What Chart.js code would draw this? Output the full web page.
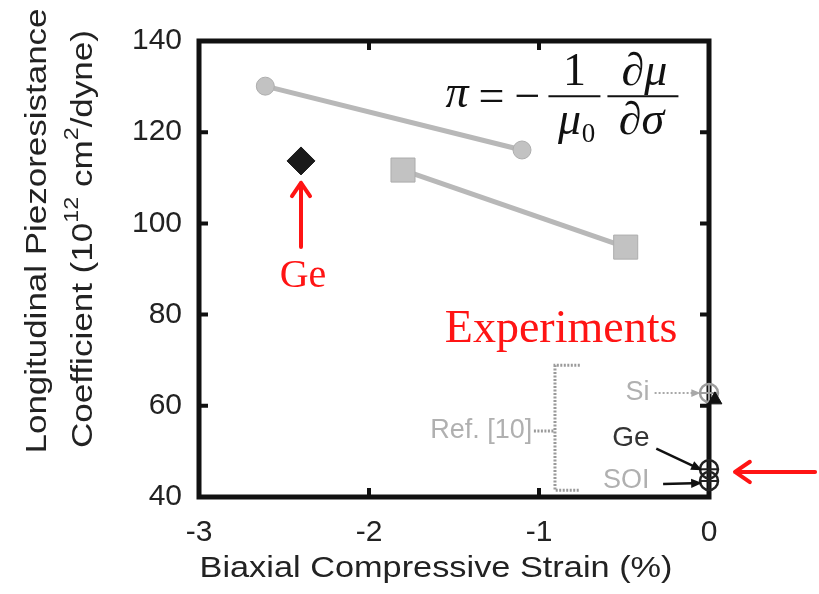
<!DOCTYPE html>
<html>
<head>
<meta charset="utf-8">
<script src="https://cdn.jsdelivr.net/npm/chart.js@4.4.0/dist/chart.umd.min.js"></script>
<style>
  html, body { margin: 0; padding: 0; background: #fff; }
  #wrap { width: 819px; height: 594px; }
</style>
</head>
<body>
<div id="wrap"><canvas id="chart" width="819" height="594"></canvas></div>
<script>
// values
const strainTicks = [-3, -2, -1, 0];
const piTicks = [40, 60, 80, 100, 120, 140];

// simulation (grey lines)
const simCircleX = [-2.61, -1.10];
const simCircleY = [130.1, 116.1];
const simSquareX = [-1.80, -0.49];
const simSquareY = [111.7, 94.8];

// strained Ge (black diamond)
const geX = [-2.40];
const geY = [113.7];

// experiments at zero strain: Si, Ge, SOI
const expLabels = ['Si', 'Ge', 'SOI'];
const expX = [0, 0, 0];
const expY = [62.8, 46.1, 43.5];
const siTriX = [0.035];
const siTriY = [61.3];

const SANS = '"Liberation Sans", Arial, sans-serif';
const SERIF = '"Liberation Serif", "Times New Roman", serif';
const RED = '#ff1414';
const GREY = '#b8b8b8';

const pts = (xs, ys) => xs.map((x, i) => ({ x: x, y: ys[i] }));

// arrow with an open chevron head (red ones)
const chevronArrow = (ctx, x1, y1, x2, y2, color, lw, head) => {
    const a = Math.atan2(y2 - y1, x2 - x1);
    ctx.save();
    ctx.strokeStyle = color;
    ctx.lineWidth = lw;
    ctx.lineCap = 'round';
    ctx.lineJoin = 'round';
    ctx.beginPath();
    ctx.moveTo(x1, y1);
    ctx.lineTo(x2, y2);
    ctx.moveTo(x2 - head * Math.cos(a - 0.6), y2 - head * Math.sin(a - 0.6));
    ctx.lineTo(x2, y2);
    ctx.lineTo(x2 - head * Math.cos(a + 0.6), y2 - head * Math.sin(a + 0.6));
    ctx.stroke();
    ctx.restore();
};

// arrow with a filled head (small black ones)
const filledArrow = (ctx, x1, y1, x2, y2, color, lw, head, dash) => {
    const a = Math.atan2(y2 - y1, x2 - x1);
    ctx.save();
    ctx.strokeStyle = color;
    ctx.fillStyle = color;
    ctx.lineWidth = lw;
    if (dash) ctx.setLineDash(dash);
    ctx.beginPath();
    ctx.moveTo(x1, y1);
    ctx.lineTo(x2 - head * 0.8 * Math.cos(a), y2 - head * 0.8 * Math.sin(a));
    ctx.stroke();
    ctx.setLineDash([]);
    ctx.beginPath();
    ctx.moveTo(x2, y2);
    ctx.lineTo(x2 - head * Math.cos(a - 0.4), y2 - head * Math.sin(a - 0.4));
    ctx.lineTo(x2 - head * Math.cos(a + 0.4), y2 - head * Math.sin(a + 0.4));
    ctx.closePath();
    ctx.fill();
    ctx.restore();
};

// text fitted to a given length, drawn along an angle
const fitText = (ctx, parts, cx, cy, len, rot) => {
    // parts: [{t, font, dy}]
    let w = 0;
    parts.forEach(p => { ctx.font = p.font; p.w = ctx.measureText(p.t).width; w += p.w; });
    const k = len / w;
    ctx.save();
    ctx.translate(cx, cy);
    ctx.rotate(rot);
    ctx.scale(k, 1);
    ctx.textBaseline = 'middle';
    ctx.textAlign = 'left';
    let x = -w / 2;
    parts.forEach(p => {
        ctx.font = p.font;
        ctx.fillText(p.t, x, p.dy || 0);
        x += p.w;
    });
    ctx.restore();
};

// frame with inward ticks, drawn under the markers
const framePlugin = {
    id: 'frame',
    beforeDatasetsDraw(chart) {
        const { ctx, chartArea: a, scales: { x, y } } = chart;
        ctx.save();
        ctx.strokeStyle = '#111';
        ctx.lineWidth = 5;
        ctx.strokeRect(a.left, a.top, a.right - a.left, a.bottom - a.top);
        ctx.lineWidth = 4;
        ctx.beginPath();
        strainTicks.slice(1, -1).forEach(v => {
            const px = x.getPixelForValue(v);
            ctx.moveTo(px, a.bottom); ctx.lineTo(px, a.bottom - 9);
            ctx.moveTo(px, a.top); ctx.lineTo(px, a.top + 9);
        });
        piTicks.slice(1, -1).forEach(v => {
            const py = y.getPixelForValue(v);
            ctx.moveTo(a.left, py); ctx.lineTo(a.left + 9, py);
            ctx.moveTo(a.right, py); ctx.lineTo(a.right - 9, py);
        });
        ctx.stroke();
        ctx.restore();
    }
};

const notesPlugin = {
    id: 'notes',
    afterDraw(chart) {
        const { ctx, chartArea: a, scales: { x, y } } = chart;
        const X = v => x.getPixelForValue(v);
        const Y = v => y.getPixelForValue(v);

        // axis titles
        ctx.fillStyle = '#222';
        fitText(ctx, [{ t: 'Biaxial Compressive Strain (%)', font: '30px ' + SANS }],
            (a.left + a.right) / 2 - 18, 569, 473, 0);
        fitText(ctx, [{ t: 'Longitudinal Piezoresistance', font: '30px ' + SANS }],
            38, 231, 445, -Math.PI / 2);
        fitText(ctx, [
            { t: 'Coefficient (10', font: '30px ' + SANS },
            { t: '12', font: '20px ' + SANS, dy: -12 },
            { t: ' cm', font: '30px ' + SANS },
            { t: '2', font: '20px ' + SANS, dy: -12 },
            { t: '/dyne)', font: '30px ' + SANS }
        ], 84, 239, 418, -Math.PI / 2);

        // formula  pi = -(1/mu0)(d mu / d sigma)
        ctx.save();
        ctx.fillStyle = '#111';
        ctx.strokeStyle = '#111';
        ctx.textBaseline = 'alphabetic';
        const barY = Y(127.9);
        let fx = X(-1.55);
        ctx.font = 'italic 46px ' + SERIF;
        ctx.textAlign = 'left';
        ctx.fillText('\u03c0', fx, barY + 11);
        fx += ctx.measureText('\u03c0').width + 10;
        ctx.font = '46px ' + SERIF;
        ctx.fillText('=', fx, barY + 15);
        fx += ctx.measureText('=').width + 10;
        ctx.fillText('\u2212', fx, barY + 15);
        fx += ctx.measureText('\u2212').width + 8;
        // first fraction
        ctx.lineWidth = 2;
        ctx.beginPath(); ctx.moveTo(fx, barY); ctx.lineTo(fx + 52, barY); ctx.stroke();
        ctx.textAlign = 'center';
        ctx.fillText('1', fx + 26, barY - 11);
        ctx.font = 'italic 46px ' + SERIF;
        ctx.fillText('\u03bc', fx + 21, barY + 38);
        ctx.font = '27px ' + SERIF;
        ctx.fillText('0', fx + 40, barY + 46);
        fx += 59;
        // second fraction
        ctx.beginPath(); ctx.moveTo(fx, barY); ctx.lineTo(fx + 71, barY); ctx.stroke();
        ctx.font = 'italic 46px ' + SERIF;
        ctx.fillText('\u2202\u03bc', fx + 37, barY - 11);
        ctx.fillText('\u2202\u03c3', fx + 34, barY + 38);
        ctx.restore();

        // red note for the strained Ge point
        chevronArrow(ctx, X(geX[0]), Y(94.8), X(geX[0]), Y(108.9), RED, 4, 16);
        ctx.save();
        ctx.fillStyle = RED;
        ctx.font = '40px ' + SERIF;
        ctx.textAlign = 'center';
        ctx.fillText('Ge', X(geX[0]) + 2, Y(86.1));
        ctx.font = '46px ' + SERIF;
        ctx.fillText('Experiments', X(-0.87), Y(74.0));
        ctx.restore();

        // red arrow pointing at the Ge experiment
        chevronArrow(ctx, X(0.624), Y(45.5), X(0.153), Y(45.5), RED, 4, 18);

        // Ref. [10] bracket
        ctx.save();
        ctx.strokeStyle = '#9a9a9a';
        ctx.lineWidth = 3;
        ctx.setLineDash([2, 1.5]);
        ctx.beginPath();
        ctx.moveTo(X(-0.76), Y(68.9));
        ctx.lineTo(X(-0.906), Y(68.9));
        ctx.lineTo(X(-0.906), Y(41.5));
        ctx.lineTo(X(-0.76), Y(41.5));
        ctx.moveTo(X(-1.03), Y(54.5));
        ctx.lineTo(X(-0.906), Y(54.5));
        ctx.stroke();
        ctx.restore();

        ctx.save();
        ctx.font = '27px ' + SANS;
        ctx.textAlign = 'right';
        ctx.textBaseline = 'middle';
        ctx.fillStyle = '#b0b0b0';
        ctx.fillText('Ref. [10]', X(-1.04), Y(54.5));
        ctx.fillText(expLabels[0], X(-0.35), Y(expY[0]));
        ctx.fillText(expLabels[2], X(-0.35), Y(expY[2]));
        ctx.fillStyle = '#333';
        ctx.font = '28px ' + SANS;
        ctx.fillText(expLabels[1], X(-0.35), Y(52.8));
        ctx.restore();

        filledArrow(ctx, X(-0.32), Y(expY[0]), X(-0.05), Y(expY[0]), '#a8a8a8', 2, 10, [2, 2]);
        filledArrow(ctx, X(-0.31), Y(50.6), X(-0.04), Y(expY[1]) + 1, '#111', 2.5, 12);
        filledArrow(ctx, X(-0.27), Y(expY[2]) + 3, X(-0.04), Y(expY[2]) + 2, '#111', 2.5, 12);
    }
};

new Chart(document.getElementById('chart'), {
    type: 'scatter',
    data: {
        datasets: [
            {
                data: pts(simCircleX, simCircleY),
                showLine: true,
                borderColor: GREY,
                borderWidth: 5,
                pointStyle: 'circle',
                pointRadius: 9,
                pointBackgroundColor: '#c2c2c2',
                pointBorderColor: '#adadad',
                pointBorderWidth: 1
            },
            {
                data: pts(simSquareX, simSquareY),
                showLine: true,
                borderColor: GREY,
                borderWidth: 5,
                pointStyle: 'rect',
                pointRadius: 17,
                pointBackgroundColor: '#c2c2c2',
                pointBorderColor: '#adadad',
                pointBorderWidth: 1
            },
            {
                data: pts(geX, geY),
                pointStyle: 'rectRot',
                pointRadius: 14,
                pointBackgroundColor: '#1a1a1a',
                pointBorderColor: '#1a1a1a'
            },
            {
                data: pts(siTriX, siTriY),
                pointStyle: 'triangle',
                pointRadius: 8,
                pointBackgroundColor: '#111',
                pointBorderColor: '#111',
                clip: false
            },
            {
                data: pts(expX, expY),
                pointStyle: 'circle',
                pointRadius: 9,
                pointBackgroundColor: 'rgba(255,255,255,0)',
                pointBorderColor: ['#9c9c9c', '#222', '#222'],
                pointBorderWidth: 2.5,
                clip: false
            },
            {
                data: pts(expX, expY),
                pointStyle: 'cross',
                pointRadius: 9,
                pointBorderColor: ['#9c9c9c', '#222', '#222'],
                pointBorderWidth: 2,
                clip: false
            }
        ]
    },
    options: {
        responsive: false,
        animation: false,
        devicePixelRatio: 1,
        layout: { padding: { left: 0, top: 41, right: 110, bottom: 0 } },
        plugins: { legend: { display: false }, tooltip: { enabled: false } },
        scales: {
            x: {
                type: 'linear',
                min: -3,
                max: 0,
                afterBuildTicks: s => { s.ticks = strainTicks.map(v => ({ value: v })); },
                afterFit: s => { s.height = 97; },
                grid: { display: false, drawTicks: false },
                border: { display: false },
                ticks: { color: '#222', padding: 18, font: { family: SANS, size: 30 } }
            },
            y: {
                min: 40,
                max: 140,
                afterBuildTicks: s => { s.ticks = piTicks.map(v => ({ value: v })); },
                afterFit: s => { s.width = 199; },
                grid: { display: false, drawTicks: false },
                border: { display: false },
                ticks: { color: '#222', padding: 17, font: { family: SANS, size: 30 } }
            }
        }
    },
    plugins: [framePlugin, notesPlugin]
});
</script>
</body>
</html>
